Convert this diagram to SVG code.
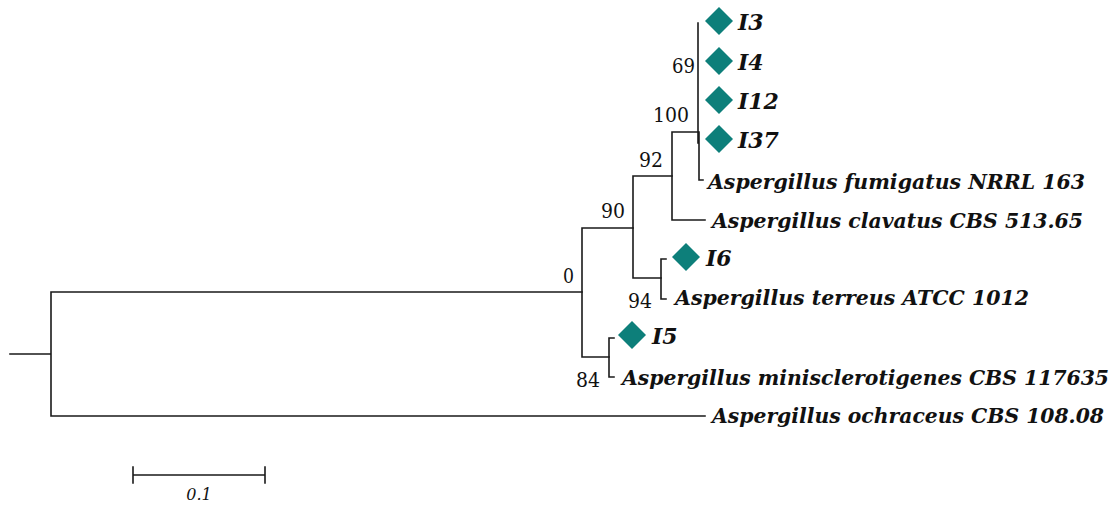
<svg xmlns="http://www.w3.org/2000/svg" width="1120" height="506" viewBox="0 0 1120 506">
  <style>
    .br { fill: none; stroke: #1a1a1a; stroke-width: 1.6; stroke-linecap: square; }
    .taxon { font-family: "DejaVu Serif", "Liberation Serif", serif; font-weight: bold; font-style: italic; font-size: 20px; fill: #111; }
    .iso { font-family: "DejaVu Serif", "Liberation Serif", serif; font-weight: bold; font-style: italic; font-size: 22px; fill: #111; }
    .boot { font-family: "DejaVu Serif", "Liberation Serif", serif; font-size: 21px; fill: #111; }
    .scale { font-family: "DejaVu Serif", "Liberation Serif", serif; font-style: italic; font-size: 16px; fill: #111; }
    .mark { fill: #0d7f7a; }
  </style>
  <defs>
    <polygon id="dia" class="mark" points="0,-14 14,0 0,14 -14,0"/>
  </defs>
  <rect width="1120" height="506" fill="#ffffff"/>

  <!-- tree branches -->
  <g id="connectors">
    <path class="br" d="M10,354 H51 M51,292 V416 M51,292 H582 M51,416 H705"/>
    <path class="br" d="M582,228 V357 M582,228 H633 M582,357 H609"/>
    <path class="br" d="M609,338 V377 M609,338 H614 M609,377 H614"/>
    <path class="br" d="M633,176 V278 M633,176 H672 M633,278 H661"/>
    <path class="br" d="M661,259 V299 M661,259 H666 M661,299 H666"/>
    <path class="br" d="M672,132 V220 M672,132 H698 M672,220 H705"/>
    <path class="br" d="M698,23 V143 M699,132 V180 M699,180 H703"/>
  </g>

  <!-- bootstrap values -->
  <g id="bootstrap">
    <text class="boot" x="672" y="73" textLength="23" lengthAdjust="spacingAndGlyphs">69</text>
    <text class="boot" x="653" y="122" textLength="36" lengthAdjust="spacingAndGlyphs">100</text>
    <text class="boot" x="639" y="167" textLength="24" lengthAdjust="spacingAndGlyphs">92</text>
    <text class="boot" x="601" y="218" textLength="24" lengthAdjust="spacingAndGlyphs">90</text>
    <text class="boot" x="563" y="283" textLength="11" lengthAdjust="spacingAndGlyphs">0</text>
    <text class="boot" x="628" y="308" textLength="24" lengthAdjust="spacingAndGlyphs">94</text>
    <text class="boot" x="576" y="387" textLength="24" lengthAdjust="spacingAndGlyphs">84</text>
  </g>

  <!-- isolates -->
  <g id="I3">
    <use href="#dia" x="719" y="21"/>
    <text class="iso" x="738" y="30">I3</text>
  </g>
  <g id="I4">
    <use href="#dia" x="719" y="61"/>
    <text class="iso" x="738" y="70">I4</text>
  </g>
  <g id="I12">
    <use href="#dia" x="719" y="100"/>
    <text class="iso" x="738" y="109">I12</text>
  </g>
  <g id="I37">
    <use href="#dia" x="719" y="139"/>
    <text class="iso" x="738" y="148">I37</text>
  </g>
  <g id="I6">
    <use href="#dia" x="686" y="257"/>
    <text class="iso" x="706" y="266">I6</text>
  </g>
  <g id="I5">
    <use href="#dia" x="632" y="335"/>
    <text class="iso" x="652" y="344">I5</text>
  </g>

  <!-- reference strains -->
  <g id="fumigatus">
    <text class="taxon" x="708" y="189" textLength="377" lengthAdjust="spacingAndGlyphs">Aspergillus fumigatus NRRL 163</text>
  </g>
  <g id="clavatus">
    <text class="taxon" x="712" y="228" textLength="371" lengthAdjust="spacingAndGlyphs">Aspergillus clavatus CBS 513.65</text>
  </g>
  <g id="terreus">
    <text class="taxon" x="675" y="305" textLength="354" lengthAdjust="spacingAndGlyphs">Aspergillus terreus ATCC 1012</text>
  </g>
  <g id="minisclerotigenes">
    <text class="taxon" x="622" y="385" textLength="487" lengthAdjust="spacingAndGlyphs">Aspergillus minisclerotigenes CBS 117635</text>
  </g>
  <g id="ochraceus">
    <text class="taxon" x="712" y="423" textLength="392" lengthAdjust="spacingAndGlyphs">Aspergillus ochraceus CBS 108.08</text>
  </g>

  <!-- scale bar -->
  <g id="scale-bar">
    <path class="br" d="M133,475 H265 M133,467 V483 M265,467 V483"/>
    <text class="scale" x="199" y="500" text-anchor="middle">0.1</text>
  </g>
</svg>
